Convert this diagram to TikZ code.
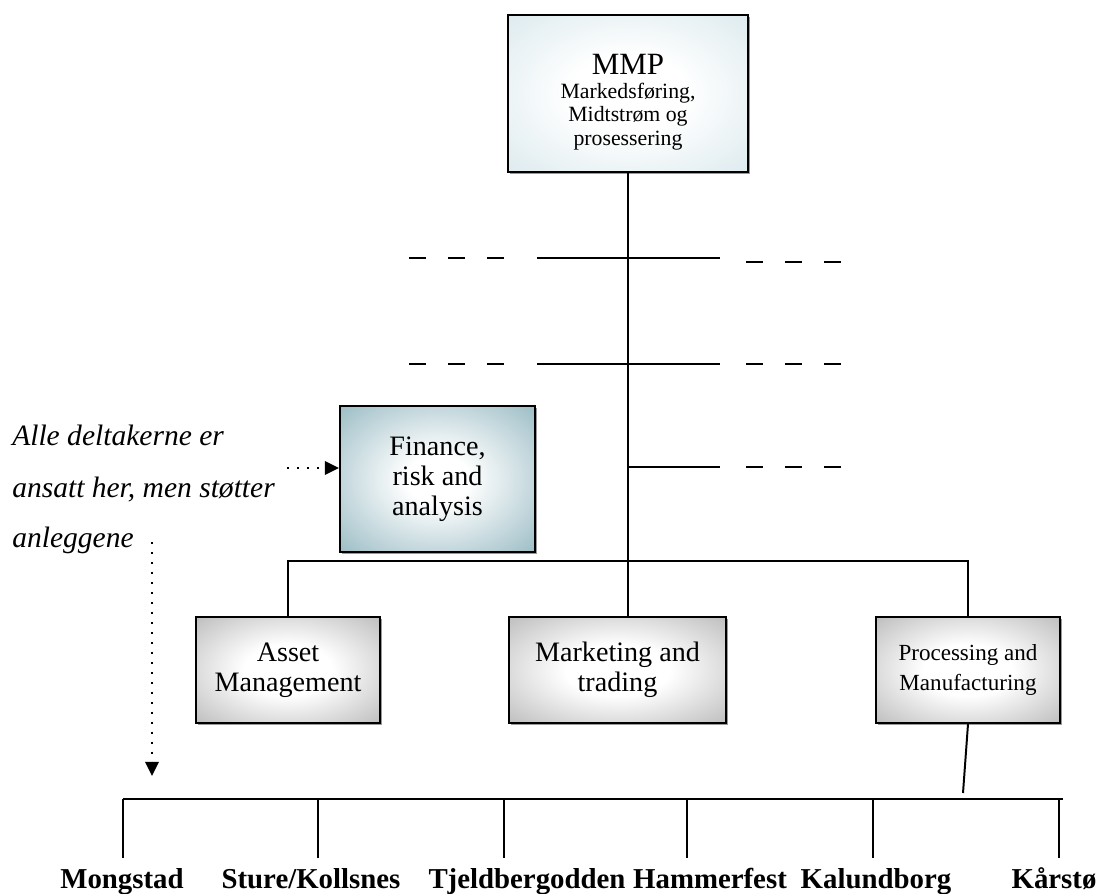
\documentclass[tikz,border=0pt]{standalone}
\usepackage{fontspec}
\setmainfont{Liberation Serif}
\usepackage{tikz}
\usetikzlibrary{arrows.meta}
\usetikzlibrary{positioning}
\usetikzlibrary{shadows}
\definecolor{mmpEdge}{RGB}{200,222,229}
\definecolor{finEdge}{RGB}{104,154,167}
\definecolor{unitEdge}{RGB}{150,150,150}
\pgfdeclareradialshading{mmpshade}{\pgfpoint{0bp}{0bp}}{color(0bp)=(white); color(12bp)=(white); color(50bp)=(mmpEdge); color(75bp)=(mmpEdge!85!black)}
\pgfdeclareradialshading{finshade}{\pgfpoint{0bp}{0bp}}{color(0bp)=(white); color(8bp)=(white); color(50bp)=(finEdge); color(75bp)=(finEdge!80!black)}
\pgfdeclareradialshading{unitshade}{\pgfpoint{0bp}{0bp}}{color(0bp)=(white); color(12bp)=(white); color(50bp)=(unitEdge); color(75bp)=(unitEdge!75!black)}
\tikzset{
	box/.style={rectangle, draw=black, line width=1.5pt, inner sep=0pt, align=center,
		drop shadow={shadow xshift=1.3pt, shadow yshift=-1.3pt, fill=black!40, opacity=1}},
	mmpbox/.style={box, shading=mmpshade, minimum width=6cm, minimum height=3.925cm},
	finbox/.style={box, shading=finshade, minimum width=4.875cm, minimum height=3.65cm,
		font=\fontsize{20}{21.3}\selectfont},
	unit/.style={box, shading=unitshade, minimum width=4.6cm, minimum height=2.65cm,
		font=\fontsize{20}{21.3}\selectfont},
}
\begin{document}
\begin{tikzpicture}[x=0.025cm, y=0.025cm,
	link/.style={line width=1.4pt},
	dashline/.style={line width=1.4pt, dash pattern=on 12pt off 15.7pt},
	pointer/.style={line width=1.7pt, dash pattern=on 1.7pt off 5.4pt,
		-{Triangle[length=10pt,width=9.5pt]}},
	note/.style={anchor=base west, inner sep=0pt, font=\fontsize{21}{25}\selectfont\itshape},
	site/.style={anchor=base, inner sep=0pt, font=\fontsize{20.5}{24}\selectfont\bfseries}]
	\useasboundingbox (0,0) rectangle (1111,-894);
	
	% top box
	\node[mmpbox] (mmp) at (628,-93.5) {};
	\node[align=center, inner sep=0pt, font=\fontsize{15.5}{16.4}\selectfont] (mmpText)
		at ([yshift=-6pt]mmp.center) {{\fontsize{22}{24}\selectfont MMP}\\[1pt]Markedsføring,\\Midtstrøm og\\prosessering};
	
	% staff box and note
	\node[finbox] (fin) at (437.5,-479) {Finance,\\risk and\\analysis};
	\node[note] (note1) at (12,-445) {Alle deltakerne er};
	\node[note] (note2) at (12,-497) {ansatt her, men støtter};
	\node[note] (note3) at (12,-547) {anleggene};
	
	% units
	\node[unit] (ast) at (288,-670) {Asset\\Management};
	\node[unit, minimum width=5.425cm] (mkt) at (617.5,-670) {Marketing and\\trading};
	\node[unit, font=\fontsize{16.4}{21.3}\selectfont] (proc) at (968,-670) {Processing and\\Manufacturing};
	
	% trunk and branch
	\coordinate (br) at (628,-561);
	\draw[link] (mmp.south) -- (mmp.south |- mkt.north);
	\draw[link] (ast.north) |- (br) -| (proc.north);
	
	% side lines
	\foreach \rowY/\dY in {258/262, 364/364} {
		\draw[dashline] (409,-\rowY) -- (505,-\rowY);
		\draw[link] (537,-\rowY) -- (720,-\rowY);
		\draw[dashline] (746,-\dY) -- (842,-\dY);
	}
	\coordinate (r3) at (628,-467);
	\draw[link] (r3) -- (720,-467);
	\draw[dashline] (746,-467) -- (842,-467);
	
	% note arrows
	\coordinate (arrA) at (287,-468);
	\draw[pointer] (arrA) -- (arrA -| fin.west);
	\coordinate (arrB) at (152,-542);
	\coordinate (arrBend) at (152,-776);
	\draw[pointer] (arrB) -- (arrBend);
	
	% plants bus
	\coordinate (busEnd) at (1063,-799);
	\coordinate (pend) at (963,-793);
	\draw[link] (proc.south) -- (pend);
	\foreach \i/\x/\lx/\name in {1/123/122/Mongstad, 2/318/311/Sture\slash Kollsnes,
		3/504/527/Tjeldbergodden, 4/687/710/Hammerfest, 5/873/876/Kalundborg, 6/1059/1054/Kårstø} {
		\coordinate (bus\i) at (\x,-799);
		\coordinate (top\i) at (\x,-858);
		\node[site] (site\i) at (\lx,-888) {\name};
		\draw[link] (bus\i) -- (top\i);
	}
	\draw[link] (bus1) -- (busEnd);
	
\end{tikzpicture}
\end{document}
